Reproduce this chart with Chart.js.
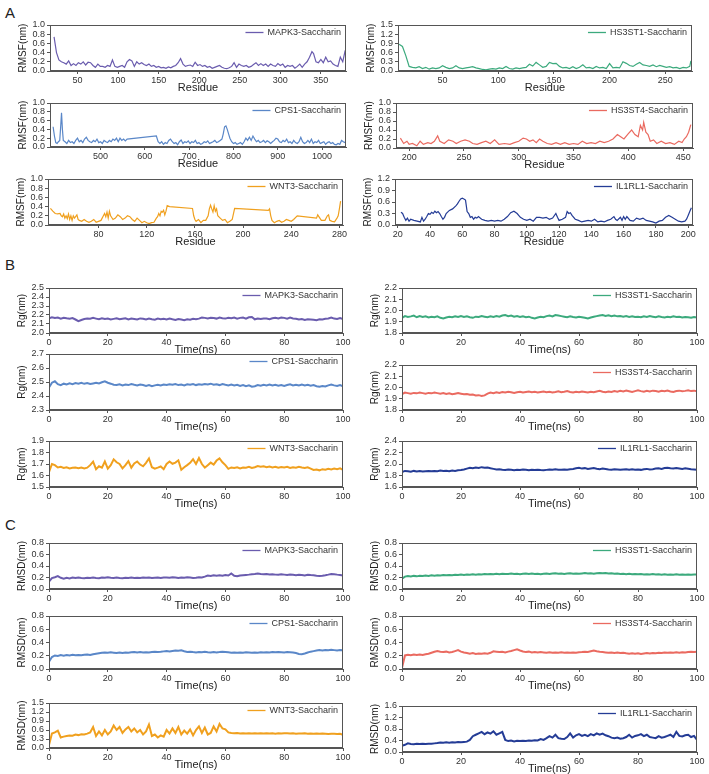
<!DOCTYPE html>
<html>
<head>
<meta charset="utf-8">
<script src="https://cdn.jsdelivr.net/npm/chart.js@4.4.1/dist/chart.umd.min.js"></script>
<style>
body{margin:0;background:#fff;width:709px;height:774px;position:relative;overflow:hidden;font-family:"Liberation Sans",Arial,sans-serif}
.tag{position:absolute;font-size:15px;color:#222}
canvas{position:absolute}
</style>
</head>
<body>
<div class="tag" style="left:5px;top:4px">A</div>
<div class="tag" style="left:5px;top:256px">B</div>
<div class="tag" style="left:5px;top:516px">C</div>
<script>
// ---- colours ----
const colMAPK3 = '#6a5cae';
const colHS3ST1 = '#3caa7d';
const colCPS1 = '#5a87c8';
const colHS3ST4 = '#ea6a60';
const colWNT3 = '#f0a01e';
const colIL1RL1 = '#243c96';

// ---- tick values ----
const ytRmsf10 = [0, 0.2, 0.4, 0.6, 0.8, 1.0];
const ytRmsf15 = [0, 0.3, 0.6, 0.9, 1.2, 1.5];
const ytRmsf12 = [0, 0.3, 0.6, 0.9, 1.2];
const ytRgMAPK3 = [2.0, 2.1, 2.2, 2.3, 2.4, 2.5];
const ytRgHS = [1.8, 1.9, 2.0, 2.1, 2.2];
const ytRgCPS1 = [2.3, 2.4, 2.5, 2.6, 2.7];
const ytRgWNT3 = [1.5, 1.6, 1.7, 1.8, 1.9];
const ytRgIL1RL1 = [1.6, 1.8, 2.0, 2.2, 2.4];
const ytRmsd08 = [0, 0.2, 0.4, 0.6, 0.8];
const ytRmsd15 = [0, 0.3, 0.6, 0.9, 1.2, 1.5];
const ytRmsd16 = [0, 0.4, 0.8, 1.2, 1.6];
const xtMAPK3 = [50, 100, 150, 200, 250, 300, 350];
const xtHS3ST1 = [50, 100, 150, 200, 250];
const xtCPS1 = [500, 600, 700, 800, 900, 1000];
const xtHS3ST4 = [200, 250, 300, 350, 400, 450];
const xtWNT3 = [80, 120, 160, 200, 240, 280];
const xtIL1RL1 = [20, 40, 60, 80, 100, 120, 140, 160, 180, 200];
const xtTime = [0, 20, 40, 60, 80, 100];

// ---- A: RMSF per residue ----
const resMAPK3 = [21,24,27,30,33,36,39,42,45,48,51,54,57,60,63,66,69,72,75,78,81,84,87,90,93,96,99,102,105,108,111,114,117,120,123,126,129,132,135,138,141,144,147,150,153,156,159,162,165,168,171,174,177,180,183,186,189,192,195,198,201,204,207,210,213,216,219,222,225,228,231,234,237,240,243,246,249,252,255,258,261,264,267,270,273,276,279,282,285,288,291,294,297,300,303,306,309,312,315,318,321,324,327,330,333,336,339,341,344,347,350,353,356,359,362,365,368,371,374,377,380];
const rmsfMAPK3 = [0.74,0.4,0.24,0.2,0.18,0.15,0.22,0.12,0.16,0.12,0.18,0.15,0.2,0.13,0.19,0.18,0.12,0.08,0.15,0.1,0.1,0.08,0.12,0.1,0.24,0.1,0.08,0.1,0.12,0.08,0.2,0.25,0.22,0.1,0.2,0.15,0.18,0.14,0.12,0.15,0.1,0.12,0.08,0.1,0.07,0.08,0.06,0.09,0.07,0.1,0.12,0.18,0.27,0.15,0.1,0.12,0.13,0.1,0.19,0.12,0.14,0.1,0.12,0.08,0.1,0.06,0.08,0.1,0.12,0.08,0.06,0.05,0.07,0.1,0.18,0.08,0.15,0.12,0.1,0.12,0.08,0.1,0.14,0.18,0.12,0.16,0.12,0.15,0.1,0.15,0.12,0.1,0.16,0.12,0.15,0.08,0.12,0.1,0.12,0.06,0.1,0.15,0.08,0.15,0.2,0.3,0.42,0.38,0.2,0.18,0.25,0.18,0.3,0.2,0.22,0.15,0.12,0.1,0.3,0.2,0.45];

const resHS3ST1 = [11,14,17,20,23,26,29,32,35,38,41,44,47,50,53,56,59,62,65,68,71,74,77,80,83,86,89,92,95,98,101,104,107,110,113,116,119,122,125,128,131,134,137,140,143,146,149,152,155,158,161,164,167,170,173,176,179,182,185,188,191,194,197,200,203,206,209,212,215,218,221,224,227,230,233,236,239,242,245,248,251,254,257,260,263,266,269,272,273];
const rmsfHS3ST1 = [0.87,0.8,0.5,0.15,0.12,0.1,0.14,0.08,0.12,0.06,0.1,0.08,0.1,0.17,0.12,0.08,0.1,0.17,0.1,0.08,0.1,0.12,0.14,0.1,0.08,0.05,0.04,0.06,0.08,0.06,0.1,0.08,0.15,0.08,0.06,0.1,0.08,0.1,0.12,0.22,0.16,0.28,0.2,0.12,0.15,0.28,0.24,0.25,0.15,0.1,0.12,0.08,0.14,0.08,0.12,0.2,0.1,0.12,0.08,0.15,0.1,0.12,0.08,0.24,0.1,0.12,0.1,0.3,0.25,0.18,0.15,0.22,0.28,0.2,0.18,0.15,0.2,0.14,0.18,0.15,0.12,0.14,0.1,0.12,0.08,0.12,0.1,0.15,0.33];

const resCPS1 = [393,396,399,402,405,408,410,412,414,416,420,424,428,432,436,440,444,448,452,456,460,464,468,472,476,480,484,488,492,496,500,504,508,512,516,520,524,528,532,536,540,544,548,552,556,560,626,630,634,638,642,646,650,654,658,662,666,670,674,678,682,686,690,694,698,702,706,710,714,718,722,726,730,734,738,742,746,750,754,758,762,766,770,774,777,780,783,786,789,792,796,800,804,808,812,816,820,824,828,832,836,840,844,848,852,856,860,864,868,872,876,880,884,888,892,896,900,904,908,912,916,920,924,928,932,936,940,944,948,952,956,960,964,968,972,976,980,984,988,992,996,1000,1004,1008,1012,1016,1020,1024,1028,1032,1036,1040,1044,1048,1052];
const rmsfCPS1 = [0.46,0.25,0.1,0.08,0.12,0.15,0.45,0.78,0.4,0.15,0.12,0.08,0.15,0.1,0.12,0.08,0.15,0.2,0.12,0.15,0.1,0.18,0.22,0.15,0.12,0.1,0.15,0.12,0.18,0.1,0.12,0.08,0.15,0.12,0.1,0.15,0.12,0.18,0.15,0.2,0.12,0.2,0.15,0.18,0.14,0.18,0.25,0.12,0.08,0.12,0.06,0.1,0.08,0.15,0.18,0.12,0.08,0.1,0.05,0.12,0.16,0.08,0.12,0.1,0.14,0.08,0.12,0.1,0.15,0.08,0.1,0.06,0.08,0.12,0.1,0.14,0.08,0.1,0.12,0.15,0.1,0.12,0.15,0.18,0.3,0.46,0.48,0.4,0.3,0.2,0.12,0.08,0.1,0.06,0.08,0.1,0.06,0.12,0.2,0.15,0.22,0.15,0.25,0.18,0.12,0.15,0.1,0.12,0.15,0.1,0.14,0.12,0.08,0.12,0.15,0.2,0.18,0.12,0.1,0.15,0.12,0.18,0.1,0.12,0.08,0.15,0.1,0.08,0.12,0.22,0.12,0.08,0.1,0.15,0.1,0.18,0.08,0.12,0.1,0.15,0.08,0.1,0.12,0.06,0.1,0.12,0.08,0.1,0.06,0.05,0.08,0.06,0.15,0.12,0.1];

const resHS3ST4 = [192,195,198,200,203,207,210,213,217,220,223,226,228,232,236,240,243,247,251,255,258,262,266,270,274,278,282,287,292,296,300,304,307,310,313,316,319,322,326,330,334,338,342,346,350,354,358,362,366,370,374,378,382,386,390,393,396,400,403,406,409,411,413,414,416,418,420,423,426,430,434,438,442,446,449,451,453,455,457];
const rmsfHS3ST4 = [0.22,0.1,0.15,0.08,0.1,0.05,0.15,0.08,0.12,0.1,0.15,0.27,0.15,0.1,0.18,0.15,0.1,0.15,0.18,0.15,0.1,0.08,0.12,0.15,0.1,0.18,0.08,0.1,0.08,0.12,0.15,0.22,0.2,0.15,0.18,0.12,0.2,0.15,0.1,0.08,0.12,0.08,0.12,0.08,0.1,0.08,0.15,0.1,0.12,0.1,0.15,0.12,0.15,0.2,0.3,0.25,0.2,0.32,0.4,0.3,0.25,0.5,0.4,0.57,0.35,0.3,0.15,0.18,0.1,0.15,0.1,0.12,0.08,0.15,0.12,0.2,0.25,0.35,0.52];

const resWNT3 = [40,42,44,46,48,49,50,51,52,53,54,55,56,57,58,59,60,62,63,64,66,68,70,72,74,76,78,80,82,84,85,86,87,88,89,90,92,94,96,98,100,102,104,106,108,110,112,114,116,118,120,122,124,126,128,129,130,131,132,133,134,135,136,137,139,158,159,160,161,163,165,167,169,171,172,173,174,175,176,177,178,179,181,183,185,187,189,191,193,221,222,223,224,226,228,230,232,234,236,238,240,242,245,261,262,265,268,270,271,272,274,276,278,279,280,281];
const rmsfWNT3 = [0.36,0.3,0.25,0.24,0.25,0.2,0.18,0.24,0.15,0.2,0.14,0.24,0.12,0.2,0.1,0.2,0.15,0.22,0.12,0.1,0.08,0.12,0.08,0.06,0.08,0.12,0.06,0.08,0.1,0.2,0.25,0.18,0.28,0.15,0.3,0.2,0.12,0.15,0.22,0.18,0.12,0.15,0.2,0.18,0.12,0.08,0.15,0.1,0.05,0.08,0.05,0.03,0.05,0.06,0.15,0.18,0.25,0.2,0.3,0.28,0.32,0.22,0.3,0.42,0.4,0.36,0.2,0.12,0.08,0.12,0.05,0.1,0.1,0.2,0.35,0.43,0.35,0.28,0.42,0.3,0.35,0.2,0.15,0.1,0.12,0.05,0.08,0.12,0.36,0.32,0.35,0.2,0.1,0.05,0.08,0.1,0.06,0.08,0.12,0.1,0.08,0.12,0.2,0.15,0.22,0.1,0.1,0.2,0.22,0.1,0.08,0.07,0.15,0.2,0.35,0.52];

const resIL1RL1 = [22,23,24,25,26,27,28,30,32,34,35,36,37,38,39,40,41,42,43,44,45,46,47,48,49,50,52,54,56,57,58,59,60,61,62,63,64,65,66,67,68,69,70,72,74,76,78,80,82,84,86,88,90,92,94,96,98,100,102,104,106,108,110,112,114,116,118,119,120,122,124,125,126,127,128,130,132,134,136,138,140,142,144,146,148,150,152,154,155,156,158,159,160,161,162,164,166,168,170,172,174,176,178,180,182,184,186,188,190,192,194,196,198,199,200,201,202];
const rmsfIL1RL1 = [0.33,0.3,0.2,0.12,0.18,0.1,0.15,0.12,0.1,0.08,0.2,0.1,0.15,0.22,0.3,0.28,0.33,0.3,0.36,0.32,0.35,0.3,0.22,0.15,0.2,0.3,0.38,0.42,0.5,0.55,0.62,0.68,0.7,0.68,0.65,0.35,0.3,0.2,0.22,0.15,0.2,0.18,0.22,0.15,0.12,0.1,0.12,0.1,0.12,0.1,0.15,0.22,0.32,0.36,0.3,0.2,0.15,0.12,0.15,0.1,0.2,0.2,0.18,0.2,0.15,0.18,0.3,0.2,0.12,0.15,0.2,0.35,0.3,0.32,0.25,0.15,0.12,0.08,0.1,0.12,0.1,0.15,0.08,0.1,0.08,0.12,0.15,0.22,0.15,0.12,0.2,0.12,0.22,0.15,0.22,0.12,0.1,0.18,0.15,0.18,0.12,0.1,0.08,0.05,0.1,0.12,0.2,0.25,0.2,0.15,0.1,0.08,0.1,0.15,0.25,0.35,0.45];

// ---- B and C: time series (ns) ----
const timeNs = [0,1,2,3,4,5,6,7,8,9,10,11,12,13,14,15,16,17,18,19,20,21,22,23,24,25,26,27,28,29,30,31,32,33,34,35,36,37,38,39,40,41,42,43,44,45,46,47,48,49,50,51,52,53,54,55,56,57,58,59,60,61,62,63,64,65,66,67,68,69,70,71,72,73,74,75,76,77,78,79,80,81,82,83,84,85,86,87,88,89,90,91,92,93,94,95,96,97,98,99,100];

const rgMAPK3 = [2.162,2.175,2.168,2.172,2.160,2.170,2.163,2.158,2.166,2.150,2.132,2.145,2.155,2.162,2.158,2.168,2.160,2.152,2.163,2.155,2.160,2.150,2.157,2.163,2.152,2.158,2.163,2.150,2.160,2.155,2.150,2.162,2.158,2.150,2.160,2.152,2.148,2.160,2.153,2.158,2.150,2.160,2.152,2.145,2.155,2.150,2.143,2.152,2.148,2.158,2.152,2.160,2.172,2.168,2.162,2.170,2.166,2.160,2.172,2.165,2.160,2.170,2.163,2.172,2.160,2.168,2.172,2.160,2.175,2.178,2.152,2.160,2.155,2.162,2.160,2.152,2.163,2.170,2.162,2.172,2.168,2.160,2.172,2.162,2.158,2.150,2.155,2.145,2.152,2.150,2.148,2.143,2.152,2.150,2.158,2.162,2.172,2.160,2.155,2.165,2.155];
const rgHS3ST1 = [1.935,1.950,1.942,1.948,1.955,1.940,1.950,1.943,1.948,1.938,1.945,1.940,1.948,1.935,1.930,1.938,1.944,1.940,1.948,1.942,1.950,1.943,1.948,1.940,1.935,1.945,1.942,1.950,1.945,1.940,1.948,1.943,1.950,1.945,1.955,1.960,1.950,1.955,1.945,1.950,1.942,1.948,1.940,1.945,1.935,1.930,1.938,1.945,1.940,1.950,1.955,1.948,1.960,1.955,1.950,1.945,1.940,1.948,1.942,1.938,1.945,1.940,1.935,1.930,1.938,1.945,1.950,1.955,1.960,1.952,1.958,1.950,1.955,1.948,1.950,1.945,1.950,1.943,1.948,1.942,1.945,1.940,1.948,1.943,1.950,1.945,1.940,1.948,1.942,1.938,1.945,1.940,1.948,1.942,1.945,1.938,1.943,1.940,1.935,1.942,1.938];
const rgCPS1 = [2.460,2.495,2.505,2.485,2.478,2.488,2.482,2.490,2.485,2.492,2.488,2.495,2.487,2.492,2.486,2.490,2.494,2.490,2.498,2.505,2.495,2.488,2.480,2.478,2.484,2.476,2.482,2.478,2.485,2.480,2.476,2.482,2.478,2.472,2.478,2.470,2.476,2.480,2.475,2.482,2.478,2.484,2.480,2.486,2.478,2.482,2.476,2.484,2.480,2.485,2.478,2.484,2.480,2.486,2.482,2.488,2.480,2.484,2.478,2.485,2.480,2.476,2.482,2.475,2.480,2.472,2.478,2.470,2.476,2.466,2.470,2.478,2.474,2.480,2.476,2.482,2.475,2.480,2.474,2.478,2.472,2.478,2.484,2.476,2.480,2.475,2.482,2.476,2.480,2.474,2.478,2.470,2.466,2.472,2.468,2.476,2.482,2.476,2.472,2.478,2.470];
const rgHS3ST4 = [1.940,1.955,1.950,1.945,1.952,1.948,1.955,1.950,1.945,1.952,1.948,1.955,1.950,1.945,1.950,1.942,1.948,1.940,1.945,1.950,1.945,1.940,1.942,1.935,1.938,1.930,1.932,1.925,1.930,1.945,1.955,1.950,1.958,1.952,1.960,1.955,1.962,1.958,1.952,1.958,1.962,1.955,1.960,1.965,1.958,1.962,1.955,1.960,1.965,1.958,1.962,1.955,1.960,1.966,1.958,1.962,1.968,1.960,1.955,1.962,1.958,1.965,1.960,1.955,1.962,1.958,1.965,1.970,1.962,1.958,1.965,1.960,1.968,1.962,1.970,1.965,1.972,1.966,1.960,1.968,1.975,1.968,1.962,1.970,1.965,1.972,1.968,1.962,1.970,1.966,1.972,1.965,1.960,1.968,1.972,1.966,1.970,1.975,1.968,1.972,1.966];
const rgWNT3 = [1.630,1.700,1.690,1.670,1.675,1.665,1.672,1.662,1.668,1.670,1.664,1.670,1.662,1.668,1.690,1.720,1.655,1.680,1.668,1.722,1.660,1.690,1.740,1.715,1.700,1.662,1.690,1.725,1.668,1.705,1.722,1.695,1.680,1.710,1.748,1.672,1.660,1.668,1.678,1.655,1.700,1.722,1.702,1.712,1.732,1.650,1.672,1.690,1.710,1.742,1.700,1.752,1.700,1.668,1.690,1.712,1.695,1.730,1.748,1.715,1.690,1.658,1.670,1.665,1.672,1.662,1.670,1.668,1.675,1.665,1.672,1.682,1.676,1.680,1.672,1.678,1.670,1.676,1.668,1.674,1.670,1.675,1.665,1.672,1.668,1.675,1.670,1.666,1.672,1.660,1.648,1.652,1.645,1.655,1.650,1.658,1.652,1.660,1.655,1.662,1.650];
const rgIL1RL1 = [1.860,1.880,1.875,1.865,1.880,1.870,1.878,1.868,1.875,1.880,1.872,1.880,1.875,1.885,1.878,1.882,1.875,1.888,1.880,1.890,1.895,1.905,1.920,1.935,1.925,1.940,1.930,1.945,1.935,1.940,1.925,1.915,1.905,1.910,1.900,1.895,1.905,1.898,1.892,1.900,1.895,1.905,1.898,1.890,1.900,1.895,1.902,1.895,1.890,1.898,1.905,1.900,1.910,1.902,1.898,1.905,1.900,1.910,1.915,1.925,1.935,1.920,1.928,1.915,1.922,1.930,1.918,1.910,1.920,1.912,1.905,1.900,1.910,1.905,1.898,1.905,1.910,1.902,1.908,1.900,1.905,1.898,1.910,1.915,1.905,1.910,1.920,1.925,1.915,1.930,1.935,1.925,1.920,1.930,1.922,1.915,1.925,1.918,1.910,1.905,1.900];

const rmsdMAPK3 = [0.130,0.190,0.205,0.225,0.195,0.180,0.195,0.185,0.198,0.190,0.200,0.192,0.188,0.196,0.190,0.198,0.192,0.188,0.200,0.194,0.205,0.196,0.190,0.198,0.192,0.188,0.195,0.190,0.198,0.192,0.196,0.190,0.200,0.194,0.198,0.190,0.196,0.200,0.192,0.198,0.202,0.196,0.205,0.198,0.192,0.200,0.195,0.204,0.198,0.192,0.196,0.205,0.200,0.215,0.235,0.228,0.240,0.232,0.238,0.230,0.242,0.235,0.270,0.230,0.222,0.235,0.240,0.245,0.250,0.258,0.262,0.268,0.260,0.255,0.262,0.252,0.258,0.250,0.246,0.255,0.250,0.245,0.252,0.246,0.240,0.248,0.242,0.236,0.248,0.242,0.238,0.230,0.226,0.232,0.240,0.250,0.262,0.258,0.250,0.244,0.235];
const rmsdHS3ST1 = [0.180,0.215,0.225,0.218,0.228,0.220,0.232,0.225,0.235,0.228,0.238,0.232,0.240,0.235,0.244,0.238,0.245,0.240,0.248,0.242,0.250,0.245,0.252,0.246,0.255,0.248,0.258,0.252,0.260,0.255,0.262,0.256,0.264,0.258,0.266,0.260,0.262,0.268,0.260,0.266,0.258,0.264,0.270,0.262,0.268,0.260,0.266,0.258,0.264,0.270,0.262,0.268,0.272,0.265,0.270,0.262,0.268,0.274,0.266,0.270,0.264,0.270,0.276,0.268,0.272,0.266,0.274,0.280,0.272,0.276,0.268,0.272,0.264,0.270,0.262,0.266,0.258,0.264,0.256,0.262,0.255,0.260,0.252,0.258,0.254,0.260,0.252,0.256,0.250,0.256,0.248,0.254,0.250,0.256,0.248,0.252,0.246,0.252,0.248,0.254,0.250];
const rmsdCPS1 = [0.110,0.180,0.205,0.198,0.210,0.202,0.212,0.205,0.215,0.208,0.212,0.206,0.214,0.218,0.210,0.222,0.230,0.238,0.245,0.250,0.244,0.252,0.246,0.240,0.248,0.242,0.250,0.245,0.252,0.258,0.250,0.255,0.248,0.254,0.248,0.256,0.262,0.255,0.260,0.266,0.270,0.265,0.272,0.280,0.275,0.282,0.268,0.258,0.262,0.255,0.250,0.258,0.252,0.260,0.254,0.250,0.256,0.250,0.255,0.262,0.258,0.252,0.246,0.250,0.244,0.250,0.246,0.252,0.248,0.244,0.250,0.246,0.252,0.248,0.254,0.250,0.256,0.252,0.258,0.254,0.250,0.256,0.252,0.248,0.240,0.228,0.222,0.235,0.250,0.262,0.270,0.278,0.285,0.280,0.288,0.282,0.290,0.285,0.278,0.285,0.282];
const rmsdHS3ST4 = [0.020,0.205,0.215,0.208,0.220,0.212,0.218,0.210,0.222,0.230,0.245,0.260,0.272,0.262,0.255,0.262,0.248,0.256,0.270,0.285,0.262,0.248,0.240,0.232,0.240,0.228,0.235,0.230,0.238,0.232,0.245,0.268,0.262,0.255,0.260,0.250,0.262,0.272,0.285,0.298,0.280,0.265,0.255,0.262,0.250,0.258,0.248,0.255,0.250,0.244,0.252,0.245,0.250,0.244,0.252,0.246,0.250,0.244,0.250,0.246,0.252,0.255,0.262,0.258,0.268,0.278,0.268,0.260,0.255,0.250,0.244,0.250,0.242,0.248,0.240,0.246,0.238,0.232,0.238,0.230,0.236,0.228,0.235,0.240,0.234,0.242,0.238,0.244,0.240,0.250,0.244,0.250,0.245,0.252,0.246,0.254,0.248,0.255,0.262,0.256,0.262];
const rmsdWNT3 = [0.100,0.480,0.520,0.580,0.350,0.380,0.400,0.420,0.410,0.450,0.430,0.460,0.450,0.480,0.520,0.700,0.400,0.550,0.420,0.600,0.450,0.550,0.750,0.600,0.700,0.500,0.620,0.700,0.550,0.650,0.520,0.600,0.450,0.550,0.780,0.400,0.450,0.350,0.420,0.380,0.600,0.480,0.650,0.500,0.700,0.450,0.580,0.480,0.620,0.420,0.600,0.720,0.500,0.680,0.450,0.500,0.720,0.550,0.800,0.650,0.620,0.520,0.500,0.490,0.500,0.485,0.495,0.480,0.495,0.485,0.490,0.480,0.495,0.485,0.490,0.480,0.488,0.478,0.490,0.482,0.488,0.495,0.482,0.490,0.478,0.486,0.480,0.488,0.476,0.485,0.478,0.484,0.474,0.482,0.476,0.470,0.478,0.472,0.468,0.474,0.440];
const rmsdIL1RL1 = [0.220,0.250,0.300,0.280,0.270,0.290,0.275,0.285,0.280,0.290,0.285,0.300,0.310,0.330,0.320,0.335,0.325,0.340,0.330,0.345,0.340,0.350,0.360,0.420,0.550,0.600,0.650,0.700,0.620,0.680,0.640,0.720,0.600,0.650,0.700,0.420,0.380,0.400,0.370,0.390,0.380,0.395,0.385,0.400,0.390,0.410,0.400,0.450,0.420,0.480,0.550,0.500,0.600,0.480,0.460,0.450,0.520,0.650,0.500,0.580,0.620,0.560,0.600,0.550,0.620,0.580,0.650,0.600,0.640,0.580,0.550,0.500,0.480,0.500,0.460,0.480,0.520,0.600,0.500,0.560,0.580,0.620,0.550,0.600,0.520,0.500,0.480,0.550,0.500,0.520,0.560,0.600,0.520,0.700,0.560,0.540,0.580,0.600,0.520,0.560,0.420];

// ---- panel layout on the page: [left, top, right, bottom] of the plot box ----
const frames = {
  A1L: [50, 25, 346, 71],  A1R: [398, 25, 692, 71],
  A2L: [50, 103, 346, 147], A2R: [396, 103, 693, 148],
  A3L: [48, 179, 343, 225], A3R: [395, 179, 693, 225],
  B1L: [49, 288, 343, 333], B1R: [402, 288, 697, 333],
  B2L: [49, 354, 343, 410], B2R: [402, 365, 697, 410],
  B3L: [49, 441, 343, 487], B3R: [402, 441, 697, 487],
  C1L: [49, 543, 343, 589], C1R: [402, 543, 697, 589],
  C2L: [49, 616, 343, 669], C2R: [402, 616, 697, 669],
  C3L: [49, 703, 343, 748], C3R: [402, 706, 697, 752]
};

const panels = [
  {id:'A1L', x:resMAPK3, y:rmsfMAPK3, name:'MAPK3-Saccharin', color:colMAPK3, xr:[16,381], xt:xtMAPK3, yt:ytRmsf10, xTitle:'Residue', yTitle:'RMSF(nm)'},
  {id:'A1R', x:resHS3ST1, y:rmsfHS3ST1, name:'HS3ST1-Saccharin', color:colHS3ST1, xr:[10,274], xt:xtHS3ST1, yt:ytRmsf15, xTitle:'Residue', yTitle:'RMSF(nm)'},
  {id:'A2L', x:resCPS1, y:rmsfCPS1, name:'CPS1-Saccharin', color:colCPS1, xr:[386,1054], xt:xtCPS1, yt:ytRmsf10, xTitle:'Residue', yTitle:'RMSF(nm)'},
  {id:'A2R', x:resHS3ST4, y:rmsfHS3ST4, name:'HS3ST4-Saccharin', color:colHS3ST4, xr:[188,459], xt:xtHS3ST4, yt:ytRmsf10, xTitle:'Residue', yTitle:'RMSF(nm)'},
  {id:'A3L', x:resWNT3, y:rmsfWNT3, name:'WNT3-Saccharin', color:colWNT3, xr:[38,283], xt:xtWNT3, yt:ytRmsf10, xTitle:'Residue', yTitle:'RMSF(nm)'},
  {id:'A3R', x:resIL1RL1, y:rmsfIL1RL1, name:'IL1RL1-Saccharin', color:colIL1RL1, xr:[18.3,203], xt:xtIL1RL1, yt:ytRmsf12, xTitle:'Residue', yTitle:'RMSF(nm)'},
  {id:'B1L', x:timeNs, y:rgMAPK3, name:'MAPK3-Saccharin', color:colMAPK3, xr:[0,100], xt:xtTime, yt:ytRgMAPK3, xTitle:'Time(ns)', yTitle:'Rg(nm)'},
  {id:'B1R', x:timeNs, y:rgHS3ST1, name:'HS3ST1-Saccharin', color:colHS3ST1, xr:[0,100], xt:xtTime, yt:ytRgHS, xTitle:'Time(ns)', yTitle:'Rg(nm)'},
  {id:'B2L', x:timeNs, y:rgCPS1, name:'CPS1-Saccharin', color:colCPS1, xr:[0,100], xt:xtTime, yt:ytRgCPS1, xTitle:'Time(ns)', yTitle:'Rg(nm)'},
  {id:'B2R', x:timeNs, y:rgHS3ST4, name:'HS3ST4-Saccharin', color:colHS3ST4, xr:[0,100], xt:xtTime, yt:ytRgHS, xTitle:'Time(ns)', yTitle:'Rg(nm)'},
  {id:'B3L', x:timeNs, y:rgWNT3, name:'WNT3-Saccharin', color:colWNT3, xr:[0,100], xt:xtTime, yt:ytRgWNT3, xTitle:'Time(ns)', yTitle:'Rg(nm)'},
  {id:'B3R', x:timeNs, y:rgIL1RL1, name:'IL1RL1-Saccharin', color:colIL1RL1, xr:[0,100], xt:xtTime, yt:ytRgIL1RL1, xTitle:'Time(ns)', yTitle:'Rg(nm)'},
  {id:'C1L', x:timeNs, y:rmsdMAPK3, name:'MAPK3-Saccharin', color:colMAPK3, xr:[0,100], xt:xtTime, yt:ytRmsd08, xTitle:'Time(ns)', yTitle:'RMSD(nm)'},
  {id:'C1R', x:timeNs, y:rmsdHS3ST1, name:'HS3ST1-Saccharin', color:colHS3ST1, xr:[0,100], xt:xtTime, yt:ytRmsd08, xTitle:'Time(ns)', yTitle:'RMSD(nm)'},
  {id:'C2L', x:timeNs, y:rmsdCPS1, name:'CPS1-Saccharin', color:colCPS1, xr:[0,100], xt:xtTime, yt:ytRmsd08, xTitle:'Time(ns)', yTitle:'RMSD(nm)'},
  {id:'C2R', x:timeNs, y:rmsdHS3ST4, name:'HS3ST4-Saccharin', color:colHS3ST4, xr:[0,100], xt:xtTime, yt:ytRmsd08, xTitle:'Time(ns)', yTitle:'RMSD(nm)'},
  {id:'C3L', x:timeNs, y:rmsdWNT3, name:'WNT3-Saccharin', color:colWNT3, xr:[0,100], xt:xtTime, yt:ytRmsd15, xTitle:'Time(ns)', yTitle:'RMSD(nm)'},
  {id:'C3R', x:timeNs, y:rmsdIL1RL1, name:'IL1RL1-Saccharin', color:colIL1RL1, xr:[0,100], xt:xtTime, yt:ytRmsd16, xTitle:'Time(ns)', yTitle:'RMSD(nm)'}
];

const FONT = '"Liberation Sans", Arial, sans-serif';
const AXIS = '#555';

// box round the plot and the little key in the top right corner
const boxAndKey = {
  id: 'boxAndKey',
  afterDatasetsDraw(chart) {
    const {ctx, chartArea: a} = chart;
    const ds = chart.data.datasets[0];
    ctx.save();
    ctx.strokeStyle = AXIS;
    ctx.lineWidth = 1;
    ctx.strokeRect(Math.round(a.left) + 0.5, Math.round(a.top) + 0.5,
      Math.round(a.right - a.left) - 1, Math.round(a.bottom - a.top) - 1);
    ctx.font = '9px ' + FONT;
    const tw = ctx.measureText(ds.label).width;
    const tx = a.right - 5 - tw, ty = a.top + 7.5;
    ctx.fillStyle = '#333';
    ctx.textBaseline = 'middle';
    ctx.fillText(ds.label, tx, ty);
    ctx.strokeStyle = ds.borderColor;
    ctx.lineWidth = 1.3;
    ctx.beginPath();
    ctx.moveTo(tx - 22, ty);
    ctx.lineTo(tx - 4, ty);
    ctx.stroke();
    ctx.restore();
  }
};

const padL = 50, padT = 10, padR = 14, axisH = 28;

function drawPanel(p) {
  const f = frames[p.id];
  const w = f[2] - f[0] + padL + padR;
  const h = f[3] - f[1] + padT + axisH;
  const cv = document.createElement('canvas');
  cv.width = w;
  cv.height = h;
  cv.style.left = (f[0] - padL) + 'px';
  cv.style.top = (f[1] - padT) + 'px';
  cv.style.width = w + 'px';
  cv.style.height = h + 'px';
  document.body.appendChild(cv);

  const isTime = p.x === timeNs;
  new Chart(cv, {
    type: 'line',
    data: {
      datasets: [{
        label: p.name,
        data: p.x.map((v, i) => ({x: v, y: p.y[i]})),
        borderColor: p.color,
        borderWidth: isTime ? 2 : 1.2,
        pointRadius: 0,
        tension: 0,
        fill: false
      }]
    },
    options: {
      responsive: false,
      animation: false,
      devicePixelRatio: 1,
      layout: {padding: {left: 0, top: padT, right: padR, bottom: 0}},
      plugins: {legend: {display: false}, tooltip: {enabled: false}},
      scales: {
        x: {
          type: 'linear',
          min: p.xr[0],
          max: p.xr[1],
          afterBuildTicks: s => { s.ticks = p.xt.map(v => ({value: v})); },
          afterFit: s => { s.height = axisH; },
          ticks: {font: {family: FONT, size: 9}, color: '#333', padding: 1, maxRotation: 0, autoSkip: false, callback: v => String(v)},
          grid: {drawOnChartArea: false, tickLength: 3, color: AXIS},
          border: {color: AXIS},
          title: {display: true, text: p.xTitle, color: '#222', font: {family: FONT, size: 11}, padding: {top: 0, bottom: 4}}
        },
        y: {
          min: p.yt[0],
          max: p.yt[p.yt.length - 1],
          afterBuildTicks: s => { s.ticks = p.yt.map(v => ({value: v})); },
          afterFit: s => { s.width = padL; },
          ticks: {font: {family: FONT, size: 9}, color: '#333', padding: 2, autoSkip: false, callback: v => v.toFixed(1)},
          grid: {drawOnChartArea: false, tickLength: 3, color: AXIS},
          border: {color: AXIS},
          title: {display: true, text: p.yTitle, color: '#222', font: {family: FONT, size: 10}, padding: {top: 17, bottom: 0}}
        }
      }
    },
    plugins: [boxAndKey]
  });
}

panels.forEach(drawPanel);
</script>
</body>
</html>
